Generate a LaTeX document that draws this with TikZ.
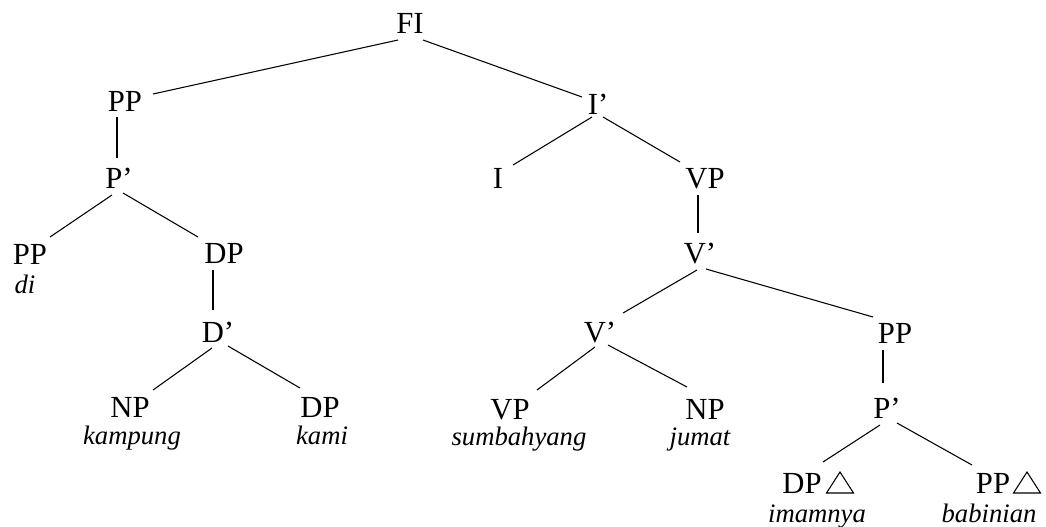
\documentclass[tikz,border=0pt]{standalone}
\usepackage{fontspec}
\setmainfont{Liberation Serif}
\usetikzlibrary{calc}
\begin{document}
\begin{tikzpicture}[x=0.75pt,y=-0.75pt,
  cat/.style={inner sep=0pt,outer sep=0pt,text height=15pt,text depth=0pt,
    font=\fontsize{23}{25}\selectfont},
  word/.style={inner sep=0pt,outer sep=0pt,anchor=base,
    font=\fontsize{20}{22}\selectfont\itshape},
  branch/.style={line width=0.8pt,black},
  tri/.style={line width=0.8pt,black,line join=miter}]
\useasboundingbox[fill=white] (0,0) rectangle (1046,526);

% category labels
\node[cat] (fi)  at (410,23)  {FI};
\node[cat] (pp1) at (125,101) {PP};
\node[cat] (ib)  at (598,104) {I’};
\node[cat] (pb)  at (119,178) {P’};
\node[cat] (i)   at (498,178) {I};
\node[cat] (vp1) at (705,178) {VP};
\node[cat] (pp2) at (30,254)  {PP};
\node[cat] (dp1) at (224,253) {DP};
\node[cat] (vb1) at (700,253) {V’};
\node[cat] (db)  at (218,332) {D’};
\node[cat] (vb2) at (600,332) {V’};
\node[cat] (pp3) at (895,333) {PP};
\node[cat] (np1) at (130,407) {NP};
\node[cat] (dp2) at (320,407) {DP};
\node[cat] (vp2) at (510,409) {VP};
\node[cat] (np2) at (705,409) {NP};
\node[cat] (pb2) at (887,408) {P’};
\node[cat] (dp3) at (802,483) {DP};
\node[cat] (pp4) at (993,483) {PP};

% lexical items
\node[word] (w1) at (25,293)  {di};
\node[word] (w2) at (132,444) {kampung};
\node[word] (w3) at (322,444) {kami};
\node[word] (w4) at (519,445) {sumbahyang};
\node[word] (w5) at (700,445) {jumat};
\node[word] (w6) at (817,522) {imamnya};
\node[word] (w7) at (989,522) {babinian};

% triangles for unanalysed phrases
\draw[tri] ($(dp3)+(38,-11)$) -- ++(13.5,21) -- ++(-27,0) -- cycle;
\draw[tri] ($(pp4)+(34,-11)$) -- ++(13.5,21) -- ++(-27,0) -- cycle;

% branches
\draw[branch] ($(fi)+(-12,17)$)  -- ($(pp1)+(28,-7)$);
\draw[branch] ($(fi)+(13,17)$)   -- ($(ib)+(-16,-7)$);
\draw[branch] ($(pp1)+(-8,16)$)  -- ($(pb)+(-2,-20)$);
\draw[branch] ($(pb)+(-7,17)$)   -- ($(pp2)+(20,-17)$);
\draw[branch] ($(pb)+(4,15)$)    -- ($(dp1)+(-26,-16)$);
\draw[branch] ($(dp1)+(-11,17)$) -- ($(db)+(-5,-22)$);
\draw[branch] ($(db)+(-6,16)$)   -- ($(np1)+(23,-17)$);
\draw[branch] ($(db)+(10,14)$)   -- ($(dp2)+(-20,-19)$);
\draw[branch] ($(ib)+(-6,13)$)   -- ($(i)+(15,-13)$);
\draw[branch] ($(ib)+(5,13)$)    -- ($(vp1)+(-25,-16)$);
\draw[branch] ($(vp1)+(-7,17)$)  -- ($(vb1)+(-2,-20)$);
\draw[branch] ($(vb1)+(-3,17)$)  -- ($(vb2)+(23,-19)$);
\draw[branch] ($(vb1)+(6,16)$)   -- ($(pp3)+(-22,-16)$);
\draw[branch] ($(vb2)+(-5,15)$)  -- ($(vp2)+(27,-19)$);
\draw[branch] ($(vb2)+(8,13)$)   -- ($(np2)+(-18,-22)$);
\draw[branch] ($(pp3)+(-12,17)$) -- ($(pb2)+(-4,-25)$);
\draw[branch] ($(pb2)+(-7,17)$)  -- ($(dp3)+(21,-21)$);
\draw[branch] ($(pb2)+(10,15)$)  -- ($(pp4)+(-21,-18)$);
\end{tikzpicture}
\end{document}
